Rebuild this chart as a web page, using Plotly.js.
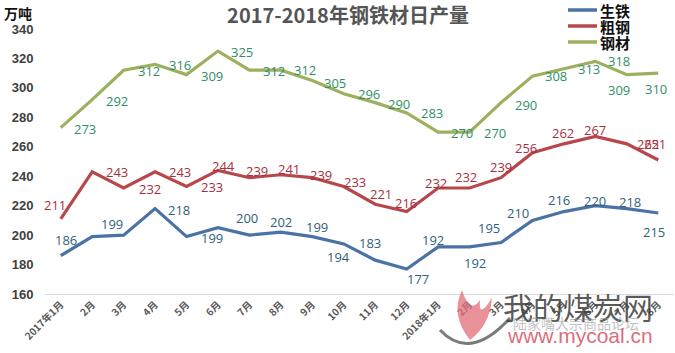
<!DOCTYPE html>
<html>
<head>
<meta charset="utf-8">
<script src="https://cdn.plot.ly/plotly-3.0.1.min.js"></script>
<style>
html,body{margin:0;padding:0;background:#fff;}
#chart{width:675px;height:353px;}
</style>
</head>
<body>
<div id="chart"></div>
<script>
// ---- data ----
const months = ["2017年1月","2月","3月","4月","5月","6月","7月","8月","9月","10月","11月","12月",
                "2018年1月","2月","3月","4月","5月","6月","7月","8月"];
const seriesNames = ["生铁","粗钢","钢材"];
const pigIron = [186,199,200,218,199,205,200,202,199,194,183,177,192,192,195,210,216,220,218,215];
const crudeSteel = [211,243,232,243,233,244,239,241,239,233,221,216,232,232,239,256,262,267,262,251];
const steelProducts = [273,292,312,316,309,325,312,312,305,296,290,283,270,270,290,308,313,318,309,310];
// which points carry a data label in the original chart
const pigIronLabelShown = [1,1,0,1,1,0,1,1,1,1,1,1,1,1,1,1,1,1,1,1];

// ---- label offsets (style, px: [dx, dy-down]) ----
const offG = [[24,1],[25,1],[25,1],[25,1],[25,1],[24,1],[25,1],[24,0],[23,2],[25,0],[24,1],[25,0],[24,1],[25,1],[25,2],[24,0],[25,0],[24,0],[-8,15],[-2,16]];
const offR = [[-6,-14],[25,0],[26,1],[25,0],[25,0],[6,-4],[8,-7],[8,-6],[9,-3],[11,-5],[6,-10],[-1,-9],[-2,-5],[-4,-11],[0,-11],[-6,-5],[-1,-11],[0,-6],[21,0],[-3,-16]];
const offB = [[5,-16],[20,-13],[0,0],[24,1],[25,1],[0,0],[-2,-17],[0,-10],[5,-10],[-5,13],[-5,-17],[11,10],[-5,-7],[5,16],[-12,-14],[-14,-7],[-5,-12],[0,-5],[3,-7],[-4,19]];

const lineColors = ["#4a72a6","#b8474b","#9db05e"];
const labelColors = ["#2f5f7e","#a8303b","#2f8f68"];

const PL = 45, PW = 629, PB = 294, PH = 265;
const px = v => (v - PL) / PW;          // pixel x -> paper
const py = v => (PB - v) / PH;          // pixel y -> paper

const xs = months.map((m,i)=>i);
const allSeries = [pigIron, crudeSteel, steelProducts];
const traces = allSeries.map((vals,k)=>({
  x: xs, y: vals, type:"scatter", mode:"lines", name: seriesNames[k],
  line:{color: lineColors[k], width:3.2}, hoverinfo:"skip", showlegend:false
}));

const annotations = [];
function addLabels(vals, offs, color, shown){
  vals.forEach((v,i)=>{
    if (shown && !shown[i]) return;
    annotations.push({x:i, y:v, xref:"x", yref:"y", text:String(v), showarrow:false,
      xshift: offs[i][0], yshift: -offs[i][1],
      font:{family:"Open Sans, Liberation Sans, sans-serif", size:13, color:color}});
  });
}
addLabels(steelProducts, offG, labelColors[2]);
addLabels(crudeSteel, offR, labelColors[1]);
addLabels(pigIron, offB, labelColors[0], pigIronLabelShown);

// unit label
annotations.push({xref:"paper", yref:"paper", x:px(2), y:py(13), xanchor:"left", yanchor:"middle",
  text:"万吨", showarrow:false, font:{family:"Noto Sans CJK SC", size:14, color:"#111", weight:"bold"}});

// legend (drawn as line samples + labels)
const legendRows = [10, 26, 42];
const shapes = [];
seriesNames.forEach((n,k)=>{
  shapes.push({type:"line", xref:"paper", yref:"paper", x0:px(568), x1:px(597), y0:py(legendRows[k]), y1:py(legendRows[k]),
               line:{color:lineColors[k], width:3.5}});
  annotations.push({xref:"paper", yref:"paper", x:px(598), y:py(legendRows[k]), xanchor:"left", yanchor:"middle",
    text:n, showarrow:false, font:{family:"Noto Sans CJK SC", size:15, color:"#111", weight:"bold"}});
});

// watermark text
annotations.push({xref:"paper", yref:"paper", x:px(578), y:py(306), xanchor:"center", yanchor:"middle",
  text:"我的煤炭网", showarrow:false, font:{family:"Noto Sans CJK SC", size:30, color:"rgba(60,60,60,0.85)"}});
annotations.push({xref:"paper", yref:"paper", x:px(576), y:py(323), xanchor:"center", yanchor:"middle",
  text:"陆家嘴大宗商品论坛", showarrow:false, font:{family:"Noto Sans CJK SC", size:14, color:"rgba(150,150,150,0.6)"}});
annotations.push({xref:"paper", yref:"paper", x:px(580), y:py(335), xanchor:"center", yanchor:"middle",
  text:"www.mycoal.cn", showarrow:false, font:{family:"Liberation Sans, sans-serif", size:21, color:"rgba(215,80,95,0.85)"}});

shapes.push({type:"path", xref:"paper", yref:"paper", layer:"above",
  path:`M ${px(440)} ${py(330)} Q ${px(470)} ${py(362)} ${px(510)} ${py(318)}`,
  line:{color:"rgba(90,90,90,0.8)", width:3}});
shapes.push({type:"path", xref:"paper", yref:"paper", layer:"above",
  path:`M ${px(470)} ${py(340)} Q ${px(450)} ${py(315)} ${px(462)} ${py(290)} Q ${px(470)} ${py(315)} ${px(480)} ${py(300)} Q ${px(478)} ${py(320)} ${px(492)} ${py(298)} Q ${px(490)} ${py(325)} ${px(470)} ${py(340)} Z`,
  fillcolor:"rgba(225,110,120,0.75)", line:{width:0}});

const layout = {
  width:675, height:353,
  margin:{l:45, r:1, t:29, b:59},
  paper_bgcolor:"#fff", plot_bgcolor:"#fff",
  title:{text:"2017-2018年钢铁材日产量", x:348/675, xref:"container", xanchor:"center",
         y:1-16/353, yref:"container", yanchor:"middle",
         font:{family:"Noto Sans CJK SC", size:20, color:"#555", weight:"bold"}},
  xaxis:{type:"linear", range:[-0.5,19.5], tickmode:"array", tickvals:xs, ticktext:months,
         tickangle:-45, showgrid:false, zeroline:false, showline:true, linecolor:"#d9d9d9", linewidth:1,
         ticks:"", tickfont:{family:"Noto Sans CJK SC", size:10, color:"#595959", weight:"bold"}, fixedrange:true},
  yaxis:{range:[160,340], dtick:20, tick0:160, showgrid:false, zeroline:false, showline:false,
         ticks:"outside", ticklen:8, tickcolor:"rgba(0,0,0,0)",
         tickfont:{family:"Liberation Sans, sans-serif", size:13, color:"#404040", weight:"bold"}, fixedrange:true},
  showlegend:false,
  shapes: shapes,
  annotations: annotations
};
Plotly.newPlot("chart", traces, layout, {staticPlot:true, displayModeBar:false});
</script>
</body>
</html>
